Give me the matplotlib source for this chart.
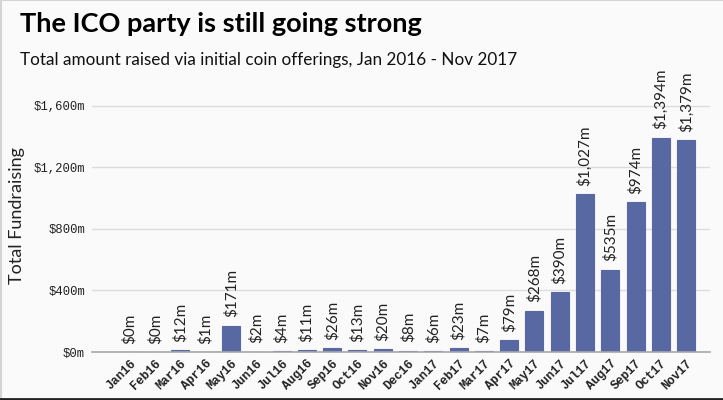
import matplotlib.pyplot as plt
from matplotlib.lines import Line2D

# monthly ICO fundraising, $ millions
months = ["Jan16", "Feb16", "Mar16", "Apr16", "May16", "Jun16", "Jul16", "Aug16",
          "Sep16", "Oct16", "Nov16", "Dec16", "Jan17", "Feb17", "Mar17", "Apr17",
          "May17", "Jun17", "Jul17", "Aug17", "Sep17", "Oct17", "Nov17"]
raised = [0.3, 0, 12, 1, 171, 2, 4, 11, 26, 13, 20, 8, 6, 23, 7, 79,
          268, 390, 1027, 535, 974, 1394, 1379]
yticks = [0, 400, 800, 1200, 1600]

bar_color = "#5868a3"
bg = "#fafafa"

fig = plt.figure(figsize=(7.23, 4.0), dpi=100, facecolor=bg)
ax = fig.add_axes([0.1272, 0.12, 0.855, 0.6535], facecolor=bg)

x = list(range(len(months)))
edges = [bar_color if v > 0 else "none" for v in raised]
bars = ax.bar(x, raised, width=0.71, color=bar_color, edgecolor=edges, linewidth=0.8, zorder=3)

# value labels above bars
for xi, v in zip(x, raised):
    ax.annotate("$%sm" % format(round(v), ","), (xi, v), xytext=(0, 6),
                textcoords="offset points", rotation=90, ha="center", va="bottom",
                fontsize=11, family="Lato", color="#222222")

ax.set_xlim(-1.5, 22.95)
ax.set_ylim(0, 1700)
ax.set_yticks(yticks)
ax.set_yticklabels(["$%sm" % format(t, ",") for t in yticks],
                   family="Liberation Mono", fontsize=8.8, color="#222222")
ax.set_xticks(x)
ax.set_xticklabels(months, rotation=45, ha="right", rotation_mode="anchor",
                   family="Liberation Mono", fontweight="bold", fontsize=8.8, color="#222222")
ax.tick_params(axis="both", length=0)
ax.tick_params(axis="y", pad=5)
ax.tick_params(axis="x", pad=4)

ax.grid(axis="y", color="#dcdcdc", linewidth=1, zorder=0)
for s in ["top", "right", "left"]:
    ax.spines[s].set_visible(False)
ax.spines["bottom"].set_color("#a8a8a8")
ax.spines["bottom"].set_linewidth(1.2)
ax.spines["bottom"].set_zorder(4)

fig.text(17 / 723, 1 - 216 / 400, "Total Fundraising", rotation=90, ha="center", va="center",
         family="Lato", fontsize=13, color="#222222")

fig.text(20 / 723, 1 - 24 / 400, "The ICO party is still going strong", ha="left", va="center",
         family="Lato", fontweight="bold", fontsize=19.5, color="black")
fig.text(20 / 723, 1 - 60 / 400, "Total amount raised via initial coin offerings, Jan 2016 - Nov 2017",
         ha="left", va="center", family="Lato", fontsize=12.3, color="#111111")

# screenshot frame
fig.add_artist(Line2D([0, 1], [0.999, 0.999], color="#d4d4d4", linewidth=1.5))
fig.add_artist(Line2D([0.001, 0.001], [0, 1], color="#d4d4d4", linewidth=1.5))
fig.add_artist(Line2D([0, 1], [0.002, 0.002], color="#222222", linewidth=2))

fig.savefig("out.png", dpi=100, facecolor=bg)
